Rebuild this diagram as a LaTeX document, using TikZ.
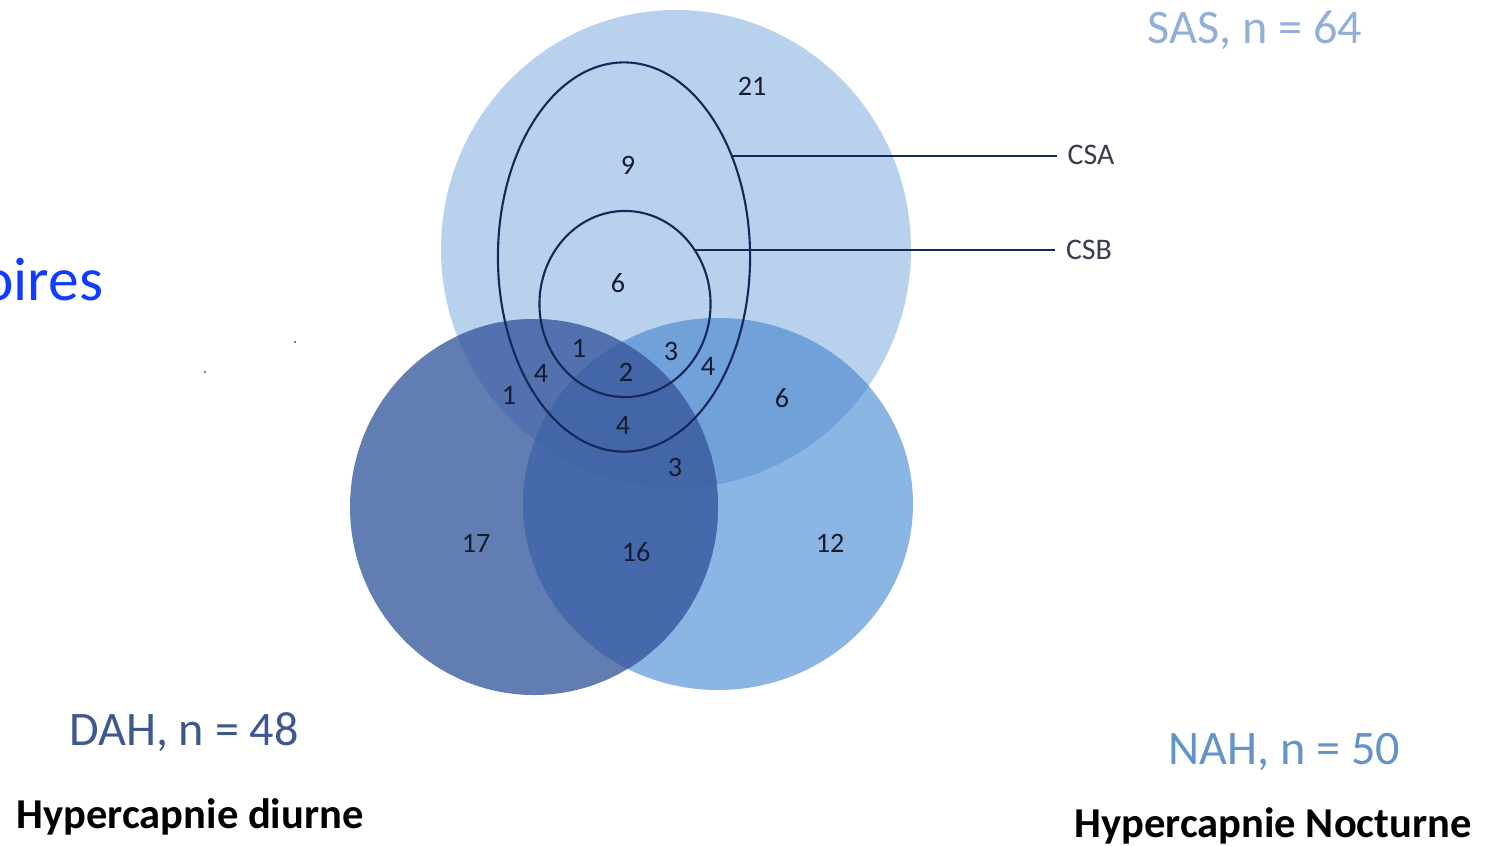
\documentclass[tikz,border=0pt]{standalone}
\usepackage{fontspec}
\setmainfont{Carlito}
\usepackage{xcolor}
\definecolor{sasfill}{RGB}{184,210,238}
\definecolor{dahfill}{RGB}{98,125,178}
\definecolor{nahfill}{RGB}{139,182,227}
\definecolor{sasdah}{RGB}{83,113,174}
\definecolor{sasnah}{RGB}{113,161,217}
\definecolor{dahnah}{RGB}{69,105,170}
\definecolor{tripleset}{RGB}{66,102,167}
\definecolor{outline}{RGB}{22,40,88}
\definecolor{numtext}{RGB}{22,28,45}
\definecolor{sastext}{RGB}{146,176,214}
\definecolor{dahtext}{RGB}{62,88,142}
\definecolor{nahtext}{RGB}{98,148,200}
\definecolor{titleblue}{RGB}{17,60,255}
\usepackage{tikz}
\usetikzlibrary{shapes.geometric, positioning, calc}

% set outlines (px units, y downwards)
\newcommand{\sasShape}{(676,249) ellipse [x radius=235, y radius=239]}
\newcommand{\dahShape}{(534,507) ellipse [x radius=184, y radius=188]}
\newcommand{\nahShape}{(718,504) ellipse [x radius=195, y radius=186]}

\begin{document}
\begin{tikzpicture}[
    x=0.01cm, y=-0.01cm,
    num/.style={font=\fontsize{8}{9}\selectfont, text=numtext, inner sep=0pt},
    setlabel/.style={font=\fontsize{13.7}{15}\selectfont, inner sep=0pt},
    caption/.style={font=\fontsize{12.1}{14}\selectfont\bfseries, text=black, inner sep=0pt},
    sublabel/.style={font=\fontsize{8.5}{9}\selectfont, text=numtext!85, inner ysep=0pt, inner xsep=2.9pt},
    subset/.style={draw=outline, line width=0.6pt, ellipse, inner sep=0pt, outer sep=0pt}
  ]
  \useasboundingbox (0,0) rectangle (1501,845);

  % Base sets
  \fill[sasfill] \sasShape;
  \fill[nahfill] \nahShape;
  \fill[dahfill] \dahShape;

  % Overlaps
  \begin{scope}
    \clip \sasShape;
    \fill[sasnah] \nahShape;
    \fill[sasdah] \dahShape;
  \end{scope}
  \begin{scope}
    \clip \dahShape;
    \fill[dahnah] \nahShape;
  \end{scope}
  \begin{scope}
    \clip \sasShape;
    \clip \dahShape;
    \fill[tripleset] \nahShape;
  \end{scope}

  % Central sleep apnea subsets
  \node (csa) at (624,257) [subset, minimum width=2.52cm, minimum height=3.89cm] {};
  \node (csb) at (625,304) [subset, minimum width=1.71cm, minimum height=1.86cm] {};

  \node (csalbl) at (1091,155) [sublabel] {CSA};
  \node (csblbl) at (1089,250) [sublabel] {CSB};
  \draw[outline, line width=0.6pt] (csa.43) -- (csa.43 -| csalbl.west);
  \draw[outline, line width=0.6pt] (csb.38) -- (csb.38 -| csblbl.west);

  % Counts
  \node (n21) at (752,86) [num] {21};
  \node (n9) at (628,165) [num] {9};
  \node (n6a) at (618,283) [num] {6};
  \node (n1a) at (579,348) [num] {1};
  \node (n3a) at (671,351) [num] {3};
  \node (n4a) at (541,373) [num] {4};
  \node (n2) at (626,372) [num] {2};
  \node (n4b) at (708,366) [num] {4};
  \node (n1b) at (509,395) [num] {1};
  \node (n6b) at (782,398) [num] {6};
  \node (n4c) at (623,425) [num] {4};
  \node (n3b) at (675,467) [num] {3};
  \node (n17) at (476,543) [num] {17};
  \node (n16) at (636,552) [num] {16};
  \node (n12) at (830,543) [num] {12};

  % Set names
  \node (saslbl) at (1255,30) [setlabel, text=sastext] {SAS, n = 64};
  \node (dahlbl) at (184,732) [setlabel, text=dahtext] {DAH, n = 48};
  \node (nahlbl) at (1284,752) [setlabel, text=nahtext] {NAH, n = 50};
  \node (diurne) at (190,817) [caption] {Hypercapnie diurne};
  \node (nocturne) at (1273,826) [caption] {Hypercapnie Nocturne};

  % Cut-off title and specks
  \begin{scope}
    \clip (0,0) rectangle (1501,845);
    \node (title) at (104,280) [anchor=east, inner sep=0pt, text=titleblue, font=\fontsize{17.5}{20}\selectfont] {oires};
  \end{scope}
  \fill[black!70] (205,372) circle [radius=1.2];
  \fill[black!70] (295,342) circle [radius=1.2];

\end{tikzpicture}
\end{document}
